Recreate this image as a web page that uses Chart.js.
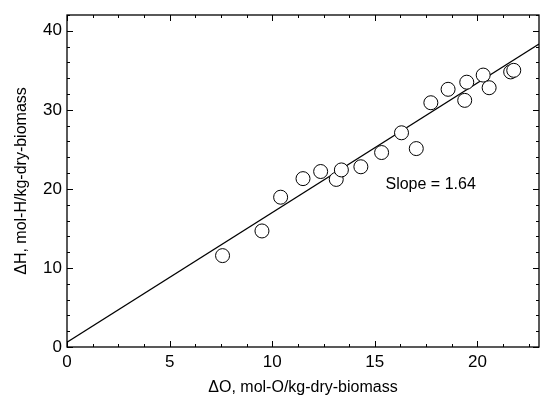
<!DOCTYPE html>
<html>
<head>
<meta charset="utf-8">
<script src="https://cdn.jsdelivr.net/npm/chart.js@4/dist/chart.umd.min.js"></script>
<style>
  html, body { margin: 0; padding: 0; background: #fff; }
  canvas { display: block; }
</style>
</head>
<body>
<canvas id="chartDH" width="540" height="397"></canvas>
<script>
// ΔO et ΔH mesurés
const deltaO = [7.58, 9.5, 10.41, 11.5, 12.36, 13.12, 13.37, 14.32, 15.33, 16.3, 17.02, 17.73, 18.57, 19.38, 19.48, 20.28, 20.57, 21.62, 21.77];
const deltaH = [11.56, 14.68, 18.95, 21.3, 22.2, 21.2, 22.4, 22.8, 24.6, 27.1, 25.1, 30.9, 32.6, 31.2, 33.5, 34.4, 32.8, 34.8, 35.0];

// droite de régression
const pente = 1.64;
const ordonnee = 0.6;
const xDroite = [0, 23];

const texteSlope = "Slope = " + pente.toFixed(2);
const posSlope = [15.52, 20.6];

const police = "'Liberation Sans', Arial, Helvetica, sans-serif";

// cadre + graduations vers l'intérieur sur les 4 côtés
const cadre = {
  id: 'cadre',
  afterDraw(chart) {
    const ctx = chart.ctx;
    const a = chart.chartArea;
    const sx = chart.scales.x, sy = chart.scales.y;
    ctx.save();
    ctx.strokeStyle = '#000';
    ctx.lineWidth = 1.3;
    ctx.strokeRect(a.left, a.top, a.right - a.left, a.bottom - a.top);
    ctx.lineWidth = 1;
    ctx.beginPath();
    for (let i = 0; i * 1.25 <= 23.001; i++) {
      const v = i * 1.25;
      const px = Math.round(sx.getPixelForValue(v)) + 0.5;
      const len = (i % 4 === 0) ? 6 : 3;
      ctx.moveTo(px, a.bottom); ctx.lineTo(px, a.bottom - len);
      ctx.moveTo(px, a.top); ctx.lineTo(px, a.top + len);
    }
    for (let v = 0; v <= 42; v += 2) {
      const py = Math.round(sy.getPixelForValue(v)) + 0.5;
      const len = (v % 10 === 0) ? 6 : 3;
      ctx.moveTo(a.left, py); ctx.lineTo(a.left + len, py);
      ctx.moveTo(a.right, py); ctx.lineTo(a.right - len, py);
    }
    ctx.stroke();

    ctx.fillStyle = '#000';
    ctx.font = '16px ' + police;
    ctx.textAlign = 'left';
    ctx.textBaseline = 'middle';
    ctx.fillText(texteSlope, sx.getPixelForValue(posSlope[0]), sy.getPixelForValue(posSlope[1]));
    ctx.restore();
  }
};

new Chart(document.getElementById("chartDH"), {
  type: 'scatter',
  data: {
    datasets: [
      {
        data: deltaO.map((x, i) => ({ x: x, y: deltaH[i] })),
        pointRadius: 7,
        pointHoverRadius: 7,
        borderWidth: 1,
        borderColor: '#000',
        backgroundColor: '#fff',
        order: 1
      },
      {
        type: 'line',
        data: xDroite.map(x => ({ x: x, y: ordonnee + pente * x })),
        borderColor: '#000',
        borderWidth: 1.3,
        pointRadius: 0,
        fill: false,
        order: 2
      }
    ]
  },
  options: {
    responsive: false,
    animation: false,
    devicePixelRatio: 1,
    layout: { autoPadding: false, padding: { top: 15, right: 1, left: 0, bottom: 0 } },
    plugins: { legend: { display: false }, tooltip: { enabled: false } },
    scales: {
      x: {
        type: 'linear',
        min: 0, max: 23,
        grid: { display: false, drawTicks: false },
        border: { display: false },
        ticks: { stepSize: 5, includeBounds: false, padding: 5, color: '#000', font: { size: 17, family: police } },
        title: { display: true, text: 'ΔO, mol-O/kg-dry-biomass', color: '#000', font: { size: 16, family: police }, padding: { top: 2, bottom: 0 } },
        afterFit: s => { s.height = 50; s.paddingLeft = 0; s.paddingRight = 0; }
      },
      y: {
        type: 'linear',
        min: 0, max: 42,
        grid: { display: false, drawTicks: false },
        border: { display: false },
        ticks: { stepSize: 10, includeBounds: false, padding: 5, color: '#000', font: { size: 17, family: police } },
        title: { display: true, text: 'ΔH, mol-H/kg-dry-biomass', color: '#000', font: { size: 16, family: police }, padding: { top: 12, bottom: 6 } },
        afterFit: s => { s.width = 67; s.paddingTop = 0; s.paddingBottom = 0; }
      }
    }
  },
  plugins: [cadre]
});
</script>
</body>
</html>
